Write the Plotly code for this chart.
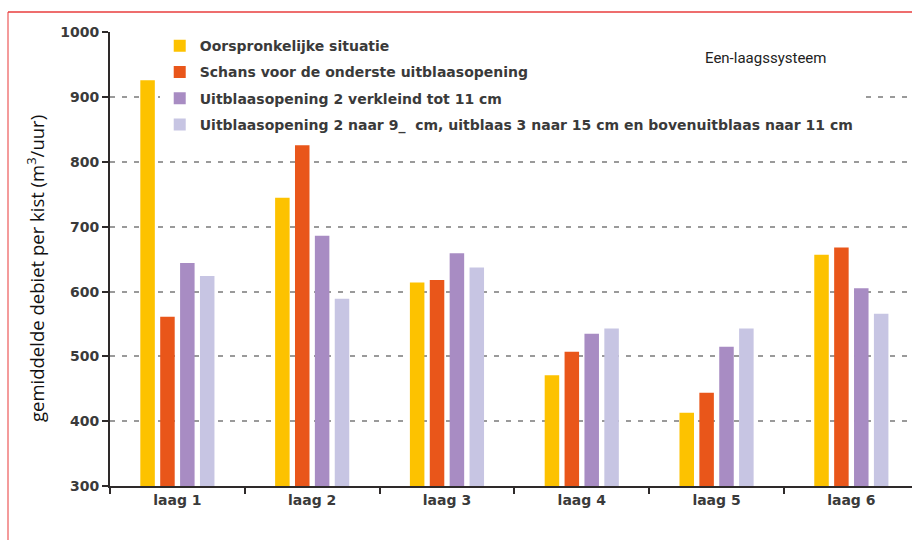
import plotly.graph_objects as go

categories = ["laag 1", "laag 2", "laag 3", "laag 4", "laag 5", "laag 6"]
series_names = [
    "Oorspronkelijke situatie",
    "Schans voor de onderste uitblaasopening",
    "Uitblaasopening 2 verkleind tot 11 cm",
    "Uitblaasopening 2 naar 9_  cm, uitblaas 3 naar 15 cm en bovenuitblaas naar 11 cm",
]
oorspronkelijk = [926, 745, 614, 471, 413, 657]
schans = [561, 826, 618, 507, 444, 668]
verkleind = [644, 686, 659, 535, 515, 605]
naar9 = [624, 589, 637, 543, 543, 566]
y_ticks = [300, 400, 500, 600, 700, 800, 900, 1000]
colors = ["#fdc200", "#e9561a", "#a88cc3", "#c7c5e3"]

fig = go.Figure()
for i, (name, vals) in enumerate(zip(series_names, [oorspronkelijk, schans, verkleind, naar9])):
    fig.add_trace(go.Bar(
        x=categories, y=vals, name=name, marker_color=colors[i],
        marker_line_width=0, legendgroup=f"g{i}",
    ))

tick_font = dict(size=14, color="#3a3a3a", family="DejaVu Sans, sans-serif", weight="bold")

fig.update_layout(
    width=912, height=540,
    margin=dict(l=110, r=0, t=32, b=54),
    paper_bgcolor="white", plot_bgcolor="white",
    barmode="group", bargap=0.41, bargroupgap=0.27,
    font=dict(family="DejaVu Sans, sans-serif", color="#333"),
    legend=dict(
        x=0.062, y=1.004, xanchor="left", yanchor="top",
        bgcolor="white", font=dict(size=14, color="#3a3a3a", family="DejaVu Sans, sans-serif", weight="bold"),
        traceorder="grouped", tracegroupgap=5,
        itemwidth=30,
    ),
    showlegend=True,
)
fig.update_xaxes(
    range=[-0.5, 5.45], showline=True, linecolor="#2e2a2a", linewidth=2,
    ticks="outside", tickson="boundaries", ticklen=6, tickwidth=2, tickcolor="#2e2a2a",
    tickfont=tick_font, showgrid=False,
)
fig.update_yaxes(
    range=[300, 1000.6], tickvals=y_ticks, showline=True, linecolor="#2e2a2a", linewidth=2,
    ticks="outside", ticklen=6, tickwidth=2, tickcolor="#2e2a2a",
    tickfont=tick_font,
    showgrid=True, gridcolor="#9a9a9a", griddash="5px,7px", gridwidth=1.5,
    zeroline=False,
)
fig.add_annotation(
    text="gemiddelde debiet per kist (m<sup>3</sup>/uur)", xref="paper", yref="paper",
    x=(35 - 110) / 802, y=(486 - 269) / 454, xanchor="center", yanchor="middle",
    textangle=-90, showarrow=False,
    font=dict(size=18.5, color="#111", family="Open Sans, sans-serif"),
)
fig.add_annotation(
    text="Een-laagssysteem", xref="paper", yref="paper",
    x=(765 - 110) / 802, y=(486 - 58) / 454, xanchor="center", yanchor="middle",
    showarrow=False, font=dict(size=15, color="#222", family="Liberation Sans Narrow, Roboto, sans-serif"),
)
# red frame
fig.add_shape(type="line", xref="paper", yref="paper",
              x0=(8 - 110) / 802, x1=(8 - 110) / 802, y0=-0.2, y1=(486 - 12) / 454,
              line=dict(color="#f07a7a", width=1.5))
fig.add_shape(type="line", xref="paper", yref="paper",
              x0=(8 - 110) / 802, x1=1.01, y0=(486 - 12) / 454, y1=(486 - 12) / 454,
              line=dict(color="#e83c3c", width=1.5))

fig.write_html("out.html")
